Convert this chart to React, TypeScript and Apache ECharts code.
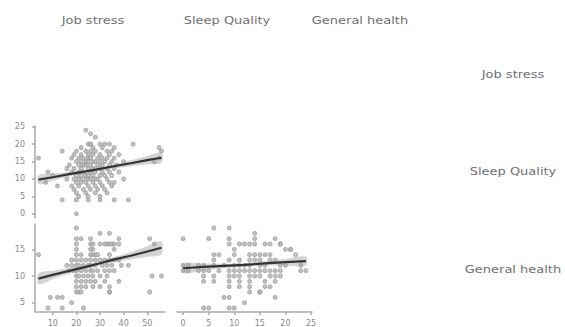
import React, { useEffect, useRef } from "react";
import * as echarts from "echarts";

const columnLabels = ["Job stress", "Sleep Quality", "General health"];
const rowLabels = ["Job stress", "Sleep Quality", "General health"];

const jsTicks = [10, 20, 30, 40, 50];
const sqTicks = [0, 5, 10, 15, 20, 25];
const ghTicks = [5, 10, 15];

// Sleep Quality (y) vs Job stress (x)
const sqVsJs: number[][] = [
  [4, 16], [8, 12], [12, 8], [14, 18], [20, 0], [24, 24], [26, 23], [28, 22], [26, 20], [34, 20],
  [44, 20], [55, 19], [56, 18], [53, 15], [55, 16], [14, 4], [20, 4], [25, 4], [30, 4], [36, 4],
  [42, 4], [10, 11], [7, 9], [16, 10], [40, 15], [40, 10], [38, 17],
  [25, 20], [26, 20], [30, 20], [32, 20],
  [22, 19], [27, 19], [31, 19], [36, 19],
  [20, 18], [24, 18], [26, 18], [28, 18], [33, 18], [35, 18],
  [19, 17], [22, 17], [25, 17], [27, 17], [30, 17], [34, 17],
  [18, 16], [21, 16], [23, 16], [25, 16], [26, 16], [29, 16], [31, 16], [33, 16], [36, 16],
  [20, 15], [22, 15], [24, 15], [25, 15], [27, 15], [28, 15], [30, 15], [32, 15], [35, 15],
  [17, 14], [21, 14], [23, 14], [24, 14], [26, 14], [29, 14], [31, 14], [34, 14], [37, 14],
  [16, 13], [19, 13], [22, 13], [25, 13], [27, 13], [28, 13], [30, 13], [33, 13], [36, 13],
  [18, 12], [21, 12], [23, 12], [26, 12], [28, 12], [31, 12], [34, 12], [38, 12],
  [20, 11], [22, 11], [24, 11], [25, 11], [27, 11], [30, 11], [32, 11], [35, 11],
  [19, 10], [21, 10], [23, 10], [25, 10], [26, 10], [28, 10], [29, 10], [33, 10],
  [20, 9], [22, 9], [24, 9], [27, 9], [30, 9], [34, 9], [36, 9],
  [18, 8], [21, 8], [25, 8], [28, 8], [31, 8], [35, 8],
  [19, 7], [23, 7], [26, 7], [29, 7], [32, 7],
  [20, 6], [24, 6], [28, 6], [33, 6],
  [21, 5], [25, 5], [30, 5],
];

// General health (y) vs Job stress (x)
const ghVsJs: number[][] = [
  [20, 19],
  [30, 18], [34, 18],
  [20, 17], [22, 17], [26, 17], [38, 17], [51, 17],
  [20, 16], [26, 16], [27, 16], [30, 16], [32, 16], [33, 16], [34, 16], [35, 16], [36, 16], [38, 16], [53, 16],
  [20, 15], [26, 15], [27, 15], [36, 15],
  [4, 14], [20, 14], [22, 14], [26, 14], [27, 14], [28, 14], [29, 14], [34, 14],
  [18, 13], [20, 13], [22, 13], [24, 13], [26, 13], [28, 13], [30, 13], [32, 13], [34, 13], [36, 13], [38, 13],
  [16, 12], [18, 12], [20, 12], [21, 12], [23, 12], [25, 12], [26, 12], [28, 12], [31, 12], [33, 12], [35, 12], [39, 12], [42, 12],
  [17, 11], [19, 11], [20, 11], [22, 11], [24, 11], [26, 11], [27, 11], [29, 11], [32, 11], [34, 11], [36, 11],
  [20, 10], [21, 10], [23, 10], [25, 10], [27, 10], [30, 10], [33, 10], [52, 10], [56, 10],
  [20, 9], [22, 9], [24, 9], [26, 9], [28, 9], [32, 9], [38, 9],
  [20, 8], [22, 8], [24, 8], [27, 8], [30, 8], [34, 8],
  [20, 7], [21, 7], [22, 7], [34, 7], [34, 7], [51, 7],
  [9, 6], [12, 6], [14, 6],
  [18, 5],
  [8, 4], [14, 4], [23, 4],
];

// General health (y) vs Sleep Quality (x)
const ghVsSq: number[][] = [
  [6, 19], [9, 19],
  [14, 18],
  [0, 17], [5, 17], [9, 17], [14, 17], [18, 17],
  [9, 16], [11, 16], [12, 16], [13, 16], [14, 16], [16, 16], [17, 16], [19, 16], [19, 16],
  [10, 15], [20, 15], [21, 15], [21, 15],
  [6, 14], [7, 14], [10, 14], [13, 14], [14, 14], [15, 14], [16, 14], [17, 14], [22, 14],
  [6, 13], [9, 13], [11, 13], [13, 13], [14, 13], [15, 13], [17, 13], [18, 13],
  [0, 12], [1, 12], [3, 12], [4, 12], [6, 12], [8, 12], [10, 12], [11, 12], [12, 12], [13, 12], [15, 12], [16, 12], [19, 12], [20, 12], [23, 12],
  [0, 11], [1, 11], [3, 11], [4, 11], [5, 11], [7, 11], [9, 11], [10, 11], [11, 11], [12, 11], [13, 11], [14, 11], [15, 11], [16, 11], [17, 11], [18, 11], [19, 11], [23, 11], [24, 11],
  [4, 10], [6, 10], [9, 10], [10, 10], [11, 10], [13, 10], [14, 10], [15, 10], [17, 10], [18, 10], [19, 10],
  [4, 9], [6, 9], [9, 9], [11, 9], [13, 9], [16, 9], [18, 9],
  [9, 8], [11, 8], [13, 8], [16, 8], [17, 8],
  [13, 7], [15, 7], [15, 7],
  [8, 6], [9, 6], [18, 6],
  [12, 5],
  [4, 4], [5, 4], [9, 4], [10, 4],
];

// Fitted lines and confidence bands
const fit1X = [4, 10, 17, 24, 30, 37, 43, 50, 56];
const fit1Y = [9.8, 10.5, 11.4, 12.2, 12.9, 13.8, 14.5, 15.4, 16.1];
const fit1Lo = [8.5, 9.5, 10.7, 11.75, 12.5, 13.2, 13.6, 14.2, 14.6];
const fit1Hi = [11.1, 11.5, 12.1, 12.65, 13.3, 14.4, 15.4, 16.6, 17.6];

const fit2X = [4, 10, 17, 24, 30, 37, 43, 50, 56];
const fit2Y = [9.5, 10.2, 10.95, 11.7, 12.4, 13.2, 13.8, 14.6, 15.3];
const fit2Lo = [8.45, 9.4, 10.4, 11.3, 12.0, 12.7, 13.1, 13.6, 14.1];
const fit2Hi = [10.55, 11.0, 11.5, 12.1, 12.8, 13.7, 14.5, 15.6, 16.5];

const fit3X = [0, 4, 8, 12, 16, 20, 24];
const fit3Y = [11.45, 11.7, 11.9, 12.1, 12.35, 12.6, 12.8];
const fit3Lo = [10.55, 11.05, 11.5, 11.8, 11.95, 11.95, 11.95];
const fit3Hi = [12.35, 12.35, 12.3, 12.4, 12.75, 13.25, 13.65];

const FONT = "DejaVu Sans";
const AXIS_COLOR = "#aaaaaa";
const LABEL_COLOR = "#8a8a8a";
const TITLE_COLOR = "#707070";

function axisShown(min: number, max: number, ticks: number[], isX: boolean) {
  return {
    type: "value",
    min,
    max,
    axisLine: { show: true, onZero: false, lineStyle: { color: AXIS_COLOR, width: 1.5 } },
    axisTick: { show: true, length: 3, customValues: ticks, lineStyle: { color: AXIS_COLOR, width: 1.5 } },
    axisLabel: {
      show: true,
      customValues: ticks,
      fontFamily: FONT,
      fontSize: 8,
      color: LABEL_COLOR,
      margin: isX ? 7 : 10,
    },
    splitLine: { show: false },
  };
}

function axisHidden(min: number, max: number) {
  return {
    type: "value",
    min,
    max,
    show: false,
    axisLine: { onZero: false },
    splitLine: { show: false },
  };
}

function zip(xs: number[], ys: number[]) {
  return xs.map((x, i) => [x, ys[i]]);
}

function panelSeries(idx: number, points: number[][], fx: number[], fy: number[], lo: number[], hi: number[]) {
  const base = { xAxisIndex: idx, yAxisIndex: idx };
  return [
    {
      ...base,
      type: "scatter",
      data: points,
      symbol: "emptyCircle",
      symbolSize: 3,
      itemStyle: { color: "#9a9a9a", borderColor: "#9a9a9a", borderWidth: 0.7, opacity: 0.75 },
      z: 2,
    },
    {
      ...base,
      type: "custom",
      data: [[fx[0], lo[0]]],
      renderItem: (_params: any, api: any) => {
        const pts: number[][] = [];
        for (let i = 0; i < fx.length; i++) pts.push(api.coord([fx[i], lo[i]]));
        for (let i = fx.length - 1; i >= 0; i--) pts.push(api.coord([fx[i], hi[i]]));
        return {
          type: "polygon",
          shape: { points: pts, smooth: 0.3 },
          style: { fill: "rgba(160,160,160,0.45)", stroke: "none" },
        };
      },
      silent: true,
      z: 3,
    },
    {
      ...base,
      type: "line",
      data: zip(fx, fy),
      symbol: "none",
      lineStyle: { color: "#333333", width: 2.2 },
      z: 4,
    },
  ];
}

export default function App() {
  const ref = useRef<HTMLDivElement>(null);

  useEffect(() => {
    if (!ref.current) return;
    const chart = echarts.init(ref.current, undefined, { renderer: "svg" });

    const colX = [93, 227, 360];
    const rowY = [75, 172, 270];

    const titles: any[] = [];
    const mk = (t: string, x: number, y: number) => ({
      type: "text",
      x,
      y,
      scaleX: 1.3,
      style: {
        text: t,
        fontFamily: FONT,
        fontSize: 10,
        fill: TITLE_COLOR,
        textAlign: "center",
        textVerticalAlign: "middle",
        align: "center",
        verticalAlign: "middle",
      },
    });
    columnLabels.forEach((t, i) => titles.push(mk(t, colX[i], 21)));
    rowLabels.forEach((t, i) => titles.push(mk(t, 513, rowY[i])));

    const option: any = {
      animation: false,
      backgroundColor: "#ffffff",
      grid: [
        { left: 35, top: 126, width: 130, height: 92 },
        { left: 35, top: 224, width: 130, height: 92 },
        { left: 177, top: 224, width: 135, height: 92 },
      ],
      xAxis: [
        { ...axisHidden(2.5, 57.5), gridIndex: 0 },
        { ...axisShown(2.5, 57.5, jsTicks, true), gridIndex: 1 },
        { ...axisShown(-1.2, 25.2, sqTicks, true), gridIndex: 2 },
      ],
      yAxis: [
        { ...axisShown(-1.2, 25.2, sqTicks, false), gridIndex: 0 },
        { ...axisShown(3.25, 19.75, ghTicks, false), gridIndex: 1 },
        { ...axisHidden(3.25, 19.75), gridIndex: 2 },
      ],
      graphic: titles,
      series: [
        ...panelSeries(0, sqVsJs, fit1X, fit1Y, fit1Lo, fit1Hi),
        ...panelSeries(1, ghVsJs, fit2X, fit2Y, fit2Lo, fit2Hi),
        ...panelSeries(2, ghVsSq, fit3X, fit3Y, fit3Lo, fit3Hi),
      ],
    };

    chart.setOption(option);
    return () => chart.dispose();
  }, []);

  return (
    <div
      ref={ref}
      style={{ position: "absolute", left: 0, top: 0, width: 565, height: 327, background: "#fff" }}
    />
  );
}
